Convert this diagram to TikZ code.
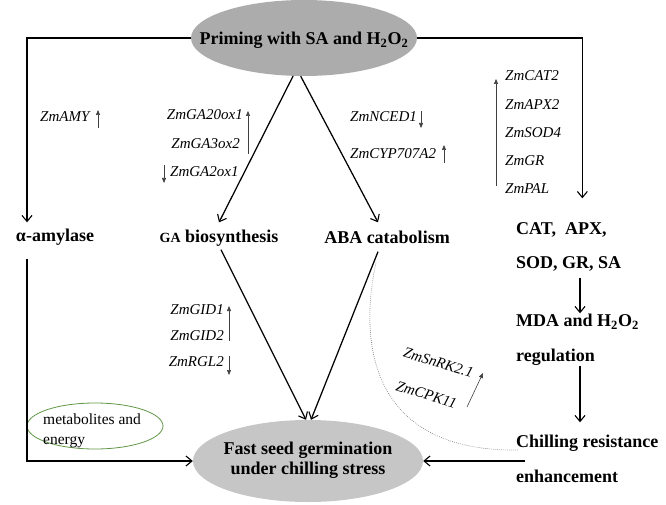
\documentclass[tikz,border=0pt]{standalone}
\usepackage{fontspec}
\setmainfont{Liberation Serif}
\usetikzlibrary{arrows.meta,shapes.geometric}
\definecolor{metgreen}{RGB}{96,150,70}
\begin{document}
\begin{tikzpicture}[x=1pt,y=-1pt,
  big/.style={font=\fontsize{18}{20}\selectfont\bfseries, inner sep=0pt, text height=13pt, text depth=4pt},
  gene/.style={font=\fontsize{15}{17}\selectfont\itshape, inner sep=0pt, text height=10pt, text depth=3pt},
  conn/.style={line width=1.25pt, -{Straight Barb[length=6pt,width=10pt,line width=1.1pt]}},
  upar/.style={line width=0.6pt, black!75, -{Triangle[length=5pt,width=4pt]}},
  dotcurve/.style={gray, line width=0.6pt, dash pattern=on 0.8pt off 1.2pt},
]
\useasboundingbox (0,0) rectangle (666,505);

% ellipses
\node[ellipse, fill=gray!65, minimum width=226pt, minimum height=76pt, inner sep=0pt] (top) at (304,38) {};
\node[big] (toptxt) at (304,40) {Priming with SA and H\textsubscript{2}O\textsubscript{2}};
\node[ellipse, fill=gray!45, minimum width=230pt, minimum height=82pt, inner sep=0pt] (bot) at (308,461) {};
\node[font=\fontsize{18}{20}\selectfont\bfseries, align=center, inner sep=0pt] (bottxt) at (308,460) {Fast seed germination\\under chilling stress};
\node[ellipse, draw=metgreen, line width=0.8pt, minimum width=136pt, minimum height=46pt, inner sep=0pt] (met) at (95,426) {};
\node[font=\fontsize{15.5}{20}\selectfont, align=left, inner sep=0pt, anchor=west] (mettxt) at (43,431) {metabolites and\\energy};

% main text nodes
\node[big] (amy) at (55,237) {α-amylase};
\node[big] (ga) at (219,238) {{\fontsize{14}{16}\selectfont GA} biosynthesis};
\node[big] (aba) at (387,239) {ABA catabolism};
\node[big, anchor=west] (cat1) at (516,230) {CAT,~ APX,};
\node[big, anchor=west] (cat2) at (516,264) {SOD, GR, SA};
\node[big, anchor=west] (mda1) at (516,322) {MDA and H\textsubscript{2}O\textsubscript{2}};
\node[big, anchor=west] (mda2) at (516,357) {regulation};
\node[big, anchor=west] (chill1) at (516,443) {Chilling resistance};
\node[big, anchor=west] (chill2) at (516,478) {enhancement};

% connectors
\draw[conn] (top.west) -| ([xshift=-28pt,yshift=6pt]amy.north);
\draw[conn] (top.east) -| ([xshift=21pt,yshift=23pt]cat1.north);
\draw[conn] (top.-106) -- ([yshift=7pt]ga.north);
\draw[conn] (top.-95) -- ([xshift=-9pt,yshift=8pt]aba.north);
\draw[conn] ([xshift=2pt,yshift=-3pt]ga.south) -- ([xshift=-2pt]bot.north);
\draw[conn] ([xshift=-9pt,yshift=-4pt]aba.south) -- ([xshift=3pt]bot.north);
\draw[conn] ([xshift=-28pt,yshift=-13pt]amy.south) |- (bot.west);
\draw[conn] ([xshift=64pt,yshift=-5pt]cat2.south west) -- ([xshift=64pt]mda1.north west);
\draw[conn] ([xshift=64pt]mda2.south west) -- ([xshift=64pt,yshift=12pt]chill1.north west);
\draw[conn] ([xshift=9pt]chill1.west |- bot.east) -- (bot.east);
\draw[dotcurve] ([xshift=-11pt,yshift=-15pt]aba.south) .. controls (358,345) and (372,452) .. ([xshift=2pt,yshift=-7pt]chill1.west);

% gene labels
\node[gene, anchor=west] (gamy) at (40,118) {ZmAMY};
\draw[upar] (98,128) -- (98,110);

\node[gene, anchor=east] (gga20) at (243,116) {ZmGA20ox1};
\node[gene, anchor=east] (gga3) at (240,145) {ZmGA3ox2};
\node[gene, anchor=west] (gga2) at (170,173) {ZmGA2ox1};
\draw[upar] (248,154) -- (248,111);
\draw[upar] (164,165) -- (164,183);

\node[gene, anchor=west] (gnced) at (350,118) {ZmNCED1};
\draw[upar] (421,111) -- (421,128);
\node[gene, anchor=west] (gcyp) at (350,155) {ZmCYP707A2};
\draw[upar] (444,163) -- (444,145);

\node[gene, anchor=west] (gcat) at (505,77) {ZmCAT2};
\node[gene, anchor=west] (gapx) at (505,106) {ZmAPX2};
\node[gene, anchor=west] (gsod) at (505,134) {ZmSOD4};
\node[gene, anchor=west] (ggr) at (505,162) {ZmGR};
\node[gene, anchor=west] (gpal) at (505,190) {ZmPAL};
\draw[upar] (496,186) -- (496,79);

\node[gene, anchor=east] (ggid1) at (224,311) {ZmGID1};
\node[gene, anchor=east] (ggid2) at (224,337) {ZmGID2};
\node[gene, anchor=east] (grgl) at (224,363) {ZmRGL2};
\draw[upar] (229,341) -- (229,306);
\draw[upar] (229,356) -- (229,375);

\node[gene, rotate=-17] (gsnrk) at (438,364) {ZmSnRK2.1};
\node[gene, rotate=-17] (gcpk) at (426,396) {ZmCPK11};
\draw[upar] (467,407) -- (483,373);
\end{tikzpicture}
\end{document}
